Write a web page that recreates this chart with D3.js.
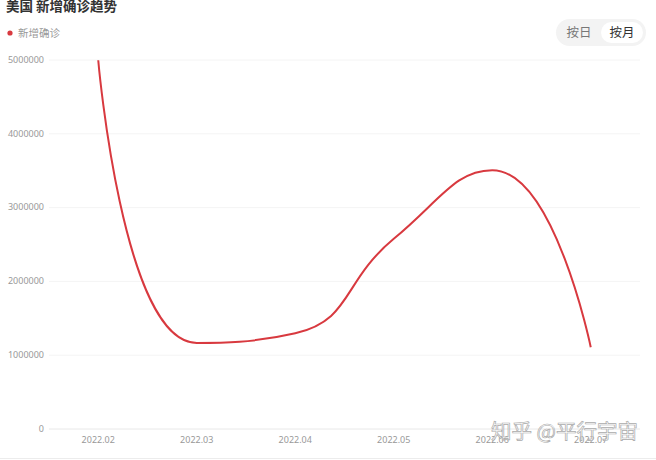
<!DOCTYPE html>
<html>
<head>
<meta charset="utf-8">
<script src="https://cdn.jsdelivr.net/npm/d3@7/dist/d3.min.js"></script>
<style>
body { margin: 0; background: #fff; }
svg { display: block; font-family: "Noto Sans CJK SC", "Noto Sans", sans-serif; }
</style>
</head>
<body>
<script>
// 資料
var months = ["2022.02", "2022.03", "2022.04", "2022.05", "2022.06", "2022.07"];
var newCases = [4990000, 1160000, 1290000, 2570000, 3500000, 1100000];
var yTicks = [0, 1000000, 2000000, 3000000, 4000000, 5000000];
var title = "美国 新增确诊趋势";
var seriesName = "新增确诊";
var toggles = ["按日", "按月"];
var watermark = "知乎 @平行宇宙";

var W = 656, H = 460;
var margin = {top: 59.5, right: 16, bottom: 31.5, left: 49},
    width = W - margin.left - margin.right,
    height = H - margin.top - margin.bottom;

var lineColor = "#d8393f";

var svg = d3.select("body").append("svg")
    .attr("width", W)
    .attr("height", H);

// x 與 y
var x = d3.scaleBand()
    .domain(months)
    .range([margin.left, margin.left + width]);
var y = d3.scaleLinear()
    .domain([0, 5000000])
    .range([margin.top + height, margin.top]);

// 格線與 y 軸
var yAxis = d3.axisLeft(y)
    .tickValues(yTicks)
    .tickSize(-width)
    .tickPadding(5)
    .tickFormat(d3.format("d"));

var gy = svg.append("g")
    .attr("transform", "translate(" + margin.left + ",0)")
    .call(yAxis);
gy.select(".domain").remove();
gy.selectAll(".tick line")
    .attr("stroke", function(d) { return d === 0 ? "#e8e8e8" : "#f4f4f4"; });
gy.selectAll(".tick text")
    .attr("fill", "#999")
    .style("font-size", "9px")
    .style("font-family", "'Noto Sans', sans-serif");

// x 軸
var xAxis = d3.axisBottom(x).tickSize(0).tickPadding(8);
var gx = svg.append("g")
    .attr("transform", "translate(0," + (margin.top + height) + ")")
    .call(xAxis);
gx.select(".domain").remove();
gx.selectAll(".tick text")
    .attr("fill", "#999")
    .style("font-size", "9px")
    .style("font-family", "'Noto Sans', sans-serif");

// 平滑曲線 (控制點限制在相鄰兩點之間)
function clamp(v, a, b) {
    return Math.max(Math.min(v, Math.max(a, b)), Math.min(a, b));
}
function smoothPath(pts, smooth) {
    var p = d3.path();
    var c0x, c0y;
    pts.forEach(function(pt, k) {
        var px = pt[0], py = pt[1];
        if (k === 0) { p.moveTo(px, py); c0x = px; c0y = py; return; }
        var prev = pts[k - 1], next = pts[k + 1];
        var c1x = px, c1y = py, nx = px, ny = py;
        if (next) {
            var vx = next[0] - prev[0], vy = next[1] - prev[1];
            var lp = Math.hypot(px - prev[0], py - prev[1]);
            var ln = Math.hypot(next[0] - px, next[1] - py);
            var r = ln / (ln + lp);
            var ox = clamp(px + vx * smooth * r, next[0], px);
            var oy = clamp(py + vy * smooth * r, next[1], py);
            var ix = clamp(px - (ox - px) * lp / ln, prev[0], px);
            var iy = clamp(py - (oy - py) * lp / ln, prev[1], py);
            nx = px + (px - ix) * ln / lp;
            ny = py + (py - iy) * ln / lp;
            c1x = ix; c1y = iy;
        }
        p.bezierCurveTo(c0x, c0y, c1x, c1y, px, py);
        c0x = nx; c0y = ny;
    });
    return p.toString();
}

var pts = months.map(function(m, i) {
    return [x(m) + x.bandwidth() / 2, y(newCases[i])];
});

svg.append("path")
    .attr("d", smoothPath(pts, 0.5))
    .attr("fill", "none")
    .attr("stroke", lineColor)
    .attr("stroke-width", 2)
    .attr("stroke-linejoin", "round");

// 標題
svg.append("text")
    .attr("x", 6)
    .attr("y", 10.5)
    .attr("fill", "#333")
    .style("font-size", "13.5px")
    .style("font-weight", "bold")
    .text(title);

// 圖例
svg.append("circle")
    .attr("cx", 10)
    .attr("cy", 33)
    .attr("r", 2.6)
    .attr("fill", lineColor);
svg.append("text")
    .attr("x", 18)
    .attr("y", 33)
    .attr("dy", "0.35em")
    .attr("fill", "#999")
    .style("font-size", "10.5px")
    .text(seriesName);

// 按日 / 按月
var tg = svg.append("g");
tg.append("rect")
    .attr("x", 556).attr("y", 19)
    .attr("width", 90).attr("height", 27)
    .attr("rx", 13.5)
    .attr("fill", "#f3f3f3");
tg.append("rect")
    .attr("x", 601).attr("y", 22)
    .attr("width", 42).attr("height", 21)
    .attr("rx", 10.5)
    .attr("fill", "#fff");
tg.selectAll("text.tog")
    .data(toggles)
    .enter().append("text")
    .attr("class", "tog")
    .attr("x", function(d, i) { return i === 0 ? 579 : 622; })
    .attr("y", 32.5)
    .attr("dy", "0.35em")
    .attr("text-anchor", "middle")
    .attr("fill", function(d, i) { return i === 0 ? "#777" : "#333"; })
    .style("font-size", "12.5px")
    .text(function(d) { return d; });

// 底線
svg.append("line")
    .attr("x1", 0).attr("x2", W)
    .attr("y1", 458.5).attr("y2", 458.5)
    .attr("stroke", "#ececec");

// 浮水印
svg.append("text")
    .attr("x", 638)
    .attr("y", 432)
    .attr("dy", "0.35em")
    .attr("text-anchor", "end")
    .attr("fill", "#fff")
    .attr("fill-opacity", 0.6)
    .attr("stroke", "#aaa")
    .attr("stroke-width", 0.7)
    .style("font-size", "20.5px")
    .text(watermark);
</script>
</body>
</html>
